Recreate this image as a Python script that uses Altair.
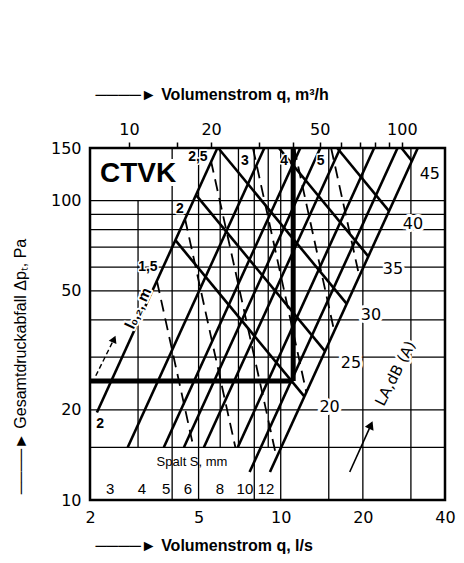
import altair as alt
import pandas as pd

# ---------------- axis values ----------------
x_ticks_ls = [2, 5, 10, 20, 40]
y_ticks_pa = [10, 20, 50, 100, 150]
top_ticks_m3h = [10, 15, 20, 30, 40, 50, 60, 70, 80, 90, 100]
top_labels_m3h = [10, 20, 50, 100]

# ---------------- grid ----------------
grid_p = [15, 20, 30, 40, 50, 60, 70, 80, 90, 100]
grid_q = [3, 4, 5, 6, 7, 8, 9, 10, 15, 20, 30]
grid_q_p_lo = [15, 10, 10, 15, 15, 10, 15, 10, 10, 10, 10]
grid_q_p_hi = [100, 150, 150, 150, 150, 150, 150, 150, 150, 150, 150]

# ---------------- Spalt S lines (solid) ----------------
spalt_s = ["2", "3", "4", "5", "6", "8", "10", "12"]
spalt_q_lo = [2.12, 2.75, 3.73, 4.42, 5.23, 6.96, 7.69, 9.13]
spalt_p_lo = [19.6, 15, 15, 15, 15, 15, 12.4, 12.4]
spalt_q_hi = [5.86, 8.71, 11.8, 13.97, 16.54, 22.0, 26.8, 31.8]
spalt_p_hi = [150, 150, 150, 150, 150, 150, 150, 150]
spalt_label_text = ["3", "4", "5", "6", "8", "10", "12"]
spalt_label_q = [2.37, 3.10, 3.80, 4.57, 5.99, 7.39, 8.83]
spalt_label_p = [10.9, 10.9, 10.9, 10.9, 10.9, 10.9, 10.9]

# ---------------- L_A lines (solid) ----------------
la_db = ["20", "25", "30", "35", "40", "45"]
la_q_start = [4.11, 4.89, 5.90, 9.85, 16.1, 27.7]
la_p_start = [73.8, 104.6, 150, 150, 150, 150]
la_q_end = [12.2, 14.5, 17.4, 20.9, 24.9, 30.2]
la_p_end = [22.2, 31.5, 45.4, 65.3, 92.5, 136]
la_label_q = [15.1, 18.1, 21.4, 25.8, 30.5, 35.2]
la_label_p = [20.4, 28.8, 41.4, 59.3, 83.8, 123]

# ---------------- throw l0,2 lines (dashed) ----------------
l02_m = ["1,5", "2", "2,5", "3", "4", "5"]
l02_q_start = [3.52, 4.46, 5.55, 7.91, 11.2, 15.3]
l02_p_start = [53.8, 87.0, 136, 150, 150, 150]
l02_q_end = [4.79, 6.82, 9.65, 12.4, 15.7, 19.4]
l02_p_end = [15, 15, 13.9, 23.0, 36.7, 56.0]
l02_label_q = [3.26, 4.27, 4.97, 7.39, 10.3, 14.0]
l02_label_p = [60, 94, 140, 136, 136, 136]

# ---------------- example operating point ----------------
op_q = [11.11]   # 40 m3/h
op_p = [25]

# ---------------- other annotations ----------------
misc_text = ["CTVK", "2", "Spalt S, mm"]
misc_q = [3.0, 2.18, 4.73]
misc_p = [123, 17.9, 13.4]
rot_text = ["l₀,₂, m", "LA,dB (A)"]
rot_q = [3.0, 26.3]
rot_p = [43.7, 26.5]
arrow_q1 = [2.10, 17.9]
arrow_p1 = [26.0, 12.4]
arrow_q2 = [2.45, 21.4]
arrow_p2 = [34.5, 17.8]

# =====================================================
xs = alt.Scale(type="log", domain=[2, 40], nice=False)
ys = alt.Scale(type="log", domain=[10, 150], nice=False)

bottom_axis = alt.Axis(
    orient="bottom", values=x_ticks_ls, grid=False, ticks=False, tickSize=0, domain=False,
    format="d", labelFont="DejaVu Sans", labelFontSize=16, labelColor="black", labelPadding=9,
    labelFlush=False, labelOverlap=False, labelBound=False,
    title="────► Volumenstrom q, l/s", titleFont="Liberation Sans", titleFontSize=16,
    titleFontWeight="bold", titleColor="black", titleX=5, titleY=45, titleAlign="left",
    titleBaseline="middle", titleAnchor="start")

left_axis = alt.Axis(
    orient="left", values=y_ticks_pa, grid=False, ticks=False, tickSize=0, domain=False,
    format="d", labelFont="DejaVu Sans", labelFontSize=16, labelColor="black", labelPadding=9,
    labelFlush=False, labelOverlap=False, labelBound=False,
    title="────►  Gesamtdruckabfall Δpₜ, Pa", titleFont="Liberation Sans", titleFontSize=16,
    titleFontWeight="normal", titleColor="black", titleX=-70, titleY=218, titleAngle=270,
    titleAlign="center", titleBaseline="middle")

top_vals = [v / 3.6 for v in top_ticks_m3h]
keep = ", ".join(str(v) for v in top_labels_m3h)
top_axis = alt.Axis(
    orient="top", values=top_vals, grid=False, ticks=True, tickSize=6, tickWidth=1.5,
    tickColor="black", domain=False,
    labelExpr=f"indexof([{keep}], round(datum.value * 3.6)) >= 0 ? '' + round(datum.value * 3.6) : ''",
    labelFont="DejaVu Sans", labelFontSize=16, labelColor="black", labelPadding=5,
    labelFlush=False, labelOverlap=False, labelBound=False,
    title="────► Volumenstrom q, m³/h", titleFont="Liberation Sans", titleFontSize=16,
    titleFontWeight="bold", titleColor="black", titleX=5, titleY=-54, titleAlign="left",
    titleBaseline="middle", titleAnchor="start")


def X(f, axis=None):
    return alt.X(f, type="quantitative", scale=xs, axis=axis)


def Y(f, axis=None):
    return alt.Y(f, type="quantitative", scale=ys, axis=axis)


hgrid_df = pd.DataFrame({"p": grid_p, "q1": [x_ticks_ls[0]] * len(grid_p),
                         "q2": [x_ticks_ls[-1]] * len(grid_p)})
hgrid = alt.Chart(hgrid_df).mark_rule(color="black", strokeWidth=1.3).encode(
    x=X("q1", bottom_axis), x2="q2", y=Y("p", left_axis))

vgrid_df = pd.DataFrame({"q": grid_q, "p1": grid_q_p_lo, "p2": grid_q_p_hi})
vgrid = alt.Chart(vgrid_df).mark_rule(color="black", strokeWidth=1.3).encode(
    x=X("q", top_axis), y=Y("p1"), y2="p2")

spalt_df = pd.DataFrame({"s": spalt_s, "q1": spalt_q_lo, "p1": spalt_p_lo,
                         "q2": spalt_q_hi, "p2": spalt_p_hi})
spalt = alt.Chart(spalt_df).mark_rule(color="black", strokeWidth=2.6).encode(
    x=X("q1"), x2="q2", y=Y("p1"), y2="p2")

la_df = pd.DataFrame({"db": la_db, "q1": la_q_start, "p1": la_p_start,
                      "q2": la_q_end, "p2": la_p_end})
la = alt.Chart(la_df).mark_rule(color="black", strokeWidth=2.6).encode(
    x=X("q1"), x2="q2", y=Y("p1"), y2="p2")

l02_df = pd.DataFrame({"m": l02_m, "q1": l02_q_start, "p1": l02_p_start,
                       "q2": l02_q_end, "p2": l02_p_end})
l02 = alt.Chart(l02_df).mark_rule(color="black", strokeWidth=1.8, strokeDash=[12, 7]).encode(
    x=X("q1"), x2="q2", y=Y("p1"), y2="p2")

op_df = pd.DataFrame({"q": op_q, "p": op_p, "q0": [x_ticks_ls[0]], "ptop": [y_ticks_pa[-1]]})
op_h = alt.Chart(op_df).mark_rule(color="black", strokeWidth=5).encode(
    x=X("q0"), x2="q", y=Y("p"))
op_v = alt.Chart(op_df).mark_rule(color="black", strokeWidth=5).encode(
    x=X("q"), y=Y("p"), y2="ptop")

arr_df = pd.DataFrame({"q1": arrow_q1, "p1": arrow_p1, "q2": arrow_q2, "p2": arrow_p2,
                       "k": ["l02", "la"]})
arr_dash = alt.Chart(arr_df.iloc[[0]]).mark_rule(color="black", strokeWidth=1.4,
                                                 strokeDash=[5, 3]).encode(
    x=X("q1"), x2="q2", y=Y("p1"), y2="p2")
arr_solid = alt.Chart(arr_df.iloc[[1]]).mark_rule(color="black", strokeWidth=1.6).encode(
    x=X("q1"), x2="q2", y=Y("p1"), y2="p2")
arr_head1 = alt.Chart(arr_df.iloc[[0]]).mark_point(shape="triangle-up", filled=True, color="black",
                                                   opacity=1, size=70, angle=24).encode(
    x=X("q2"), y=Y("p2"))
arr_head2 = alt.Chart(arr_df.iloc[[1]]).mark_point(shape="triangle-up", filled=True, color="black",
                                                   opacity=1, size=90, angle=24).encode(
    x=X("q2"), y=Y("p2"))


def text_layers(df, size, weight="normal", font="Liberation Sans", angle=None, halo=4):
    base = alt.Chart(df).encode(x=X("q"), y=Y("p"), text="t:N")
    kw = dict(font=font, fontSize=size, fontWeight=weight, align="center", baseline="middle")
    if angle is not None:
        kw["angle"] = angle
    out = []
    if halo:
        out.append(base.mark_text(color="white", stroke="white", strokeWidth=halo,
                                  strokeJoin="round", **kw))
    out.append(base.mark_text(color="black", **kw))
    return out


la_lab = pd.DataFrame({"t": la_db, "q": la_label_q, "p": la_label_p})
l02_lab = pd.DataFrame({"t": l02_m, "q": l02_label_q, "p": l02_label_p})
sp_lab = pd.DataFrame({"t": spalt_label_text, "q": spalt_label_q, "p": spalt_label_p})
ctvk = pd.DataFrame({"t": misc_text[:1], "q": misc_q[:1], "p": misc_p[:1]})
s2lab = pd.DataFrame({"t": misc_text[1:2], "q": misc_q[1:2], "p": misc_p[1:2]})
spaltt = pd.DataFrame({"t": misc_text[2:], "q": misc_q[2:], "p": misc_p[2:]})
rot1 = pd.DataFrame({"t": rot_text[:1], "q": rot_q[:1], "p": rot_p[:1]})
rot2 = pd.DataFrame({"t": rot_text[1:], "q": rot_q[1:], "p": rot_p[1:]})

layers = [hgrid, vgrid, spalt, la, l02, op_h, op_v, arr_dash, arr_solid, arr_head1, arr_head2]
layers += text_layers(ctvk, 28, "bold", halo=8)
layers += text_layers(la_lab, 16, font="DejaVu Sans", halo=6)
layers += text_layers(l02_lab, 14, "bold", halo=3)
layers += text_layers(s2lab, 14, "bold", halo=3)
layers += text_layers(sp_lab, 15, halo=0)
layers += text_layers(spaltt, 13, halo=0)
layers += text_layers(rot1, 15, "bold", angle=295, halo=4)
layers += text_layers(rot2, 15, font="DejaVu Sans", angle=297, halo=5)

chart = alt.layer(*layers).resolve_axis(x="independent", y="independent").properties(
    width=355, height=352,
    autosize=alt.AutoSizeParams(type="none"),
    padding={"left": 82, "top": 140, "right": 11, "bottom": 55},
    background="white",
).configure_view(stroke="black", strokeWidth=2.5)

chart.save("out.html", embed_options={"renderer": "svg", "actions": False})
